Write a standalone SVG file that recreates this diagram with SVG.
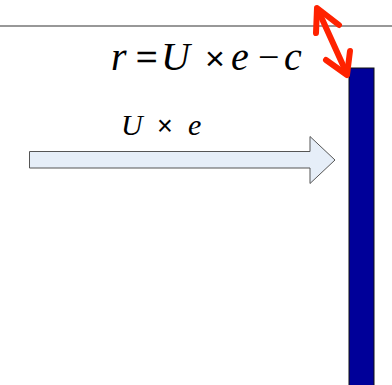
<svg xmlns="http://www.w3.org/2000/svg" width="392" height="385" viewBox="0 0 392 385">
<defs>
<style>
.m{font-family:"Liberation Serif","Times New Roman",serif;font-style:italic;fill:#000}
.o{font-family:"Liberation Serif","Times New Roman",serif;fill:#000}
.x{font-family:"Liberation Sans",Arial,sans-serif;fill:#000}
</style>
</defs>
<rect width="392" height="385" fill="#fff"/>
<g id="rule"><line x1="0" y1="26" x2="392" y2="26" stroke="#333" stroke-width="1.2"/></g>
<g id="wall"><rect x="349" y="68" width="25" height="320" fill="#000099" stroke="#111" stroke-width="1"/></g>
<g id="formula">
<text class="m" x="111" y="70" font-size="40">r</text>
<text class="o" x="136" y="70" font-size="38" stroke="#000" stroke-width="0.6">=</text>
<text class="m" x="161" y="70" font-size="40">U</text>
<text class="x" x="205" y="70" font-size="34">×</text>
<text class="m" x="231" y="70" font-size="40">e</text>
<text class="o" x="258" y="70" font-size="38">−</text>
<text class="m" x="284" y="70" font-size="40">c</text>
</g>
<g id="flow">
<path d="M29.5,151.5 H310 V136.5 L335,160 L310,183.5 V168 H29.5 Z" fill="#E6EEF8" stroke="#555" stroke-width="1"/>
<text class="m" x="121" y="135" font-size="30">U</text>
<text class="x" x="157" y="135" font-size="27">×</text>
<text class="m" x="188" y="135" font-size="30">e</text>
</g>
<g id="connectors" stroke="#FF2200" stroke-width="6" stroke-linecap="round" stroke-linejoin="round" fill="none">
<line x1="318" y1="10" x2="347" y2="74"/>
<polyline points="316,33 317,8 339,25"/>
<polyline points="326,60 347,75 350,51"/>
</g>
</svg>
